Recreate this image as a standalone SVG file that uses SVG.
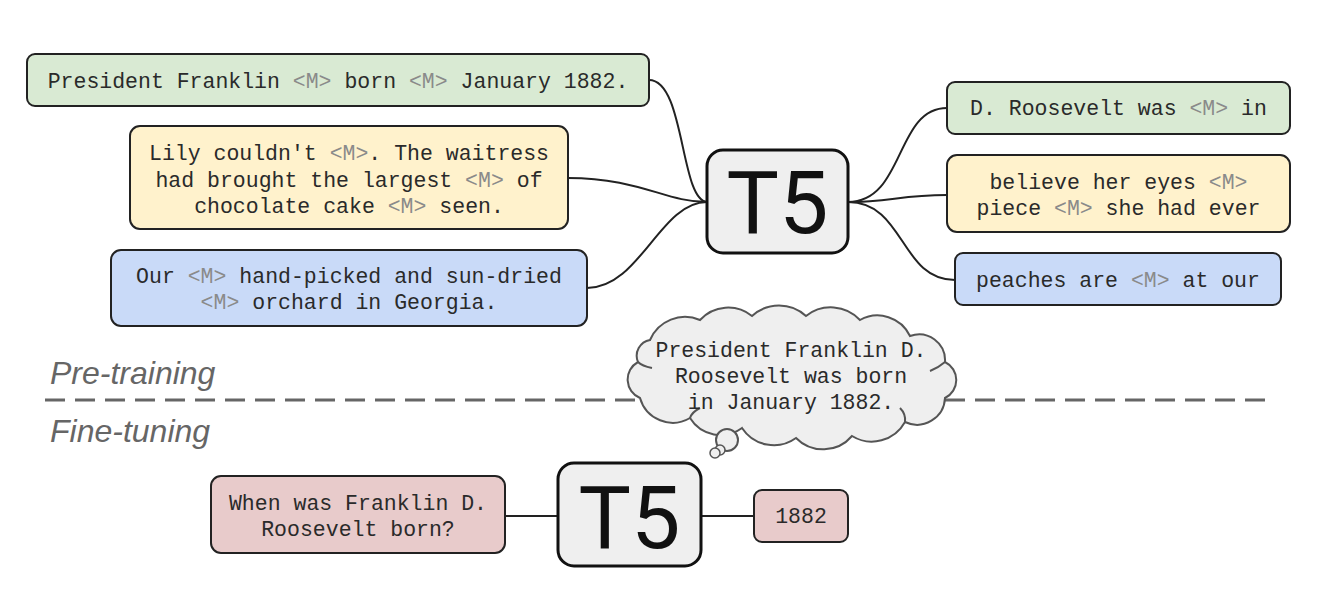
<svg xmlns="http://www.w3.org/2000/svg" width="1324" height="592" viewBox="0 0 1324 592">
<style>
.box{stroke:#222;stroke-width:2}
.t{font-family:"Liberation Mono","DejaVu Sans Mono",monospace;font-size:21.5px;fill:#2a2a2a;text-anchor:middle}
.m{fill:#8a8a8a}
.g{fill:#d9ead3}.y{fill:#fff2cc}.b{fill:#c9daf8}.p{fill:#e8cbcb}
.t5box{fill:#efefef;stroke:#111;stroke-width:3}
.t5{font-family:Roboto,"Liberation Sans",sans-serif;font-size:88px;fill:#111;text-anchor:middle}
.lbl{font-family:"Liberation Sans",Arial,sans-serif;font-style:italic;font-size:32px;fill:#666}
.conn path,.conn line{fill:none;stroke:#222;stroke-width:2}
.stub{fill:none;stroke:#555;stroke-width:2}
</style>
<rect width="1324" height="592" fill="#fff"/>

<g id="phase-labels">
<text class="lbl" x="50" y="384">Pre-training</text>
<line x1="45" y1="400" x2="1266" y2="400" stroke="#666" stroke-width="3" stroke-dasharray="20 10"/>
<text class="lbl" x="50" y="442">Fine-tuning</text>
</g>

<g class="conn" id="connectors">
<path d="M649,80 C685,80 680,200 707,202"/>
<path d="M568,178 C640,178 665,202 707,202"/>
<path d="M587,288 C640,288 660,202 707,202"/>
<path d="M848,202 C905,202 895,108 947,108"/>
<path d="M848,202 C890,202 900,195 947,195"/>
<path d="M848,202 C905,202 900,280 955,280"/>
<line x1="505" y1="516" x2="558" y2="516"/>
<line x1="701" y1="516" x2="754" y2="516"/>
</g>

<g id="in-green">
<rect class="box g" x="27" y="54" width="622" height="52" rx="8"/>
<text class="t" x="338" y="88">President Franklin <tspan class="m">&lt;M&gt;</tspan> born <tspan class="m">&lt;M&gt;</tspan> January 1882.</text>
</g>
<g id="in-yellow">
<rect class="box y" x="130" y="126" width="438" height="103" rx="10"/>
<text class="t" x="349" y="160">Lily couldn't <tspan class="m">&lt;M&gt;</tspan>. The waitress</text>
<text class="t" x="349" y="187">had brought the largest <tspan class="m">&lt;M&gt;</tspan> of</text>
<text class="t" x="349" y="213">chocolate cake <tspan class="m">&lt;M&gt;</tspan> seen.</text>
</g>
<g id="in-blue">
<rect class="box b" x="111" y="250" width="476" height="76" rx="10"/>
<text class="t" x="349" y="283">Our <tspan class="m">&lt;M&gt;</tspan> hand-picked and sun-dried</text>
<text class="t" x="349" y="309"><tspan class="m">&lt;M&gt;</tspan> orchard in Georgia.</text>
</g>

<g id="t5-pretrain">
<rect class="t5box" x="707" y="150" width="141" height="103" rx="16"/>
<text class="t5" x="777.5" y="233">T5</text>
</g>

<g id="out-green">
<rect class="box g" x="947" y="82" width="343" height="52" rx="8"/>
<text class="t" x="1118.5" y="115">D. Roosevelt was <tspan class="m">&lt;M&gt;</tspan> in</text>
</g>
<g id="out-yellow">
<rect class="box y" x="947" y="155" width="343" height="77" rx="10"/>
<text class="t" x="1118.5" y="189">believe her eyes <tspan class="m">&lt;M&gt;</tspan></text>
<text class="t" x="1118.5" y="215">piece <tspan class="m">&lt;M&gt;</tspan> she had ever</text>
</g>
<g id="out-blue">
<rect class="box b" x="955" y="253" width="326" height="52" rx="8"/>
<text class="t" x="1118" y="287">peaches are <tspan class="m">&lt;M&gt;</tspan> at our</text>
</g>

<g id="thought-cloud">
<path d="M650,340 A38,38 0 0 1 700,320 A38,38 0 0 1 752,316 A40,40 0 0 1 806,316 A40,40 0 0 1 860,320 A36,36 0 0 1 910,336 A26,26 0 0 1 945,362 A20,20 0 0 1 945,398 A28,28 0 0 1 905,422 A38,38 0 0 1 852,436 A38,38 0 0 1 796,438 A38,38 0 0 1 742,428 A36,36 0 0 1 690,418 A34,34 0 0 1 640,398 A20,20 0 0 1 638,362 A16,16 0 0 1 650,340 Z" fill="#efefef" stroke="#555" stroke-width="2"/>
<path class="stub" d="M638,362 Q642,366 652,368"/>
<path class="stub" d="M690,418 Q692,412 700,408"/>
<path class="stub" d="M905,422 Q906,414 900,408"/>
<path class="stub" d="M945,362 Q938,368 930,371"/>
<circle cx="727" cy="440" r="11" fill="#efefef" stroke="#555" stroke-width="2"/>
<circle cx="720" cy="450" r="5" fill="#efefef" stroke="#555" stroke-width="1.5"/>
<circle cx="715" cy="453" r="5" fill="#efefef" stroke="#555" stroke-width="1.5"/>
<text class="t" x="791" y="357">President Franklin D.</text>
<text class="t" x="791" y="383">Roosevelt was born</text>
<text class="t" x="791" y="409">in January 1882.</text>
</g>

<g id="ft-input">
<rect class="box p" x="211" y="476" width="294" height="77" rx="10"/>
<text class="t" x="358" y="510">When was Franklin D.</text>
<text class="t" x="358" y="536">Roosevelt born?</text>
</g>
<g id="t5-finetune">
<rect class="t5box" x="558" y="463" width="143" height="103" rx="16"/>
<text class="t5" x="629.5" y="548">T5</text>
</g>
<g id="ft-output">
<rect class="box p" x="754" y="490" width="94" height="52" rx="8"/>
<text class="t" x="801" y="523">1882</text>
</g>
</svg>
